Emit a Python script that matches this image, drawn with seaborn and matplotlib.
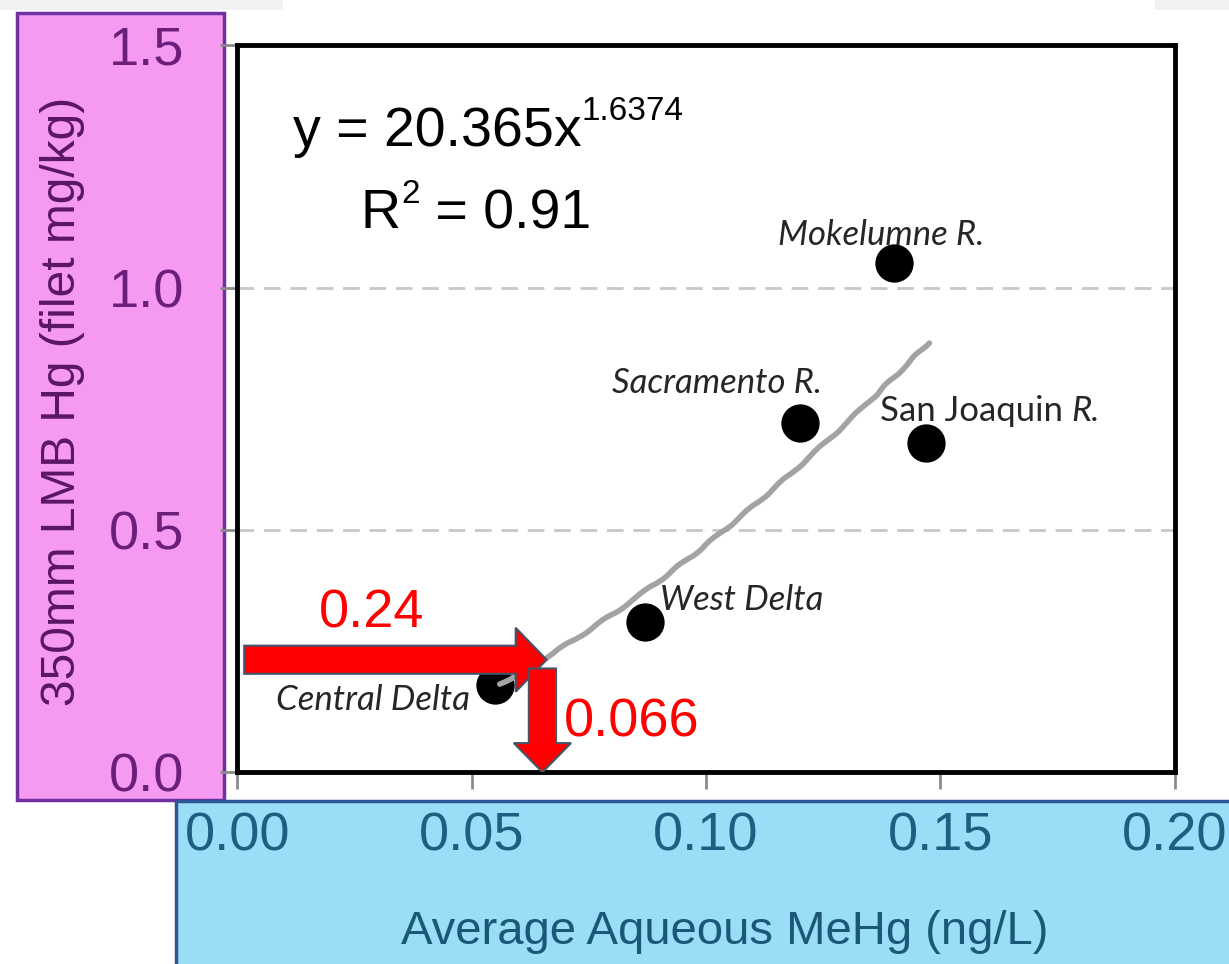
import matplotlib
matplotlib.use('Agg')
import matplotlib.pyplot as plt
from matplotlib.patches import Rectangle, Polygon
import seaborn as sns
import numpy as np
import pandas as pd

# sites and their values
sites = ['Central Delta', 'West Delta', 'Sacramento R.', 'Mokelumne R.', 'San Joaquin R.']
mehg = [0.055, 0.087, 0.120, 0.140, 0.147]
lmb_hg = [0.18, 0.31, 0.72, 1.05, 0.68]

# power fit shown on the chart
fit_coef = 20.365
fit_exp = 1.6374
fit_r2 = 0.91

# target read-off
target_hg = 0.24
target_mehg = 0.066

x_ticks = [0.00, 0.05, 0.10, 0.15, 0.20]
y_ticks = [0.0, 0.5, 1.0, 1.5]

sns.set_theme(style='white')
plt.rcParams['font.family'] = ['Liberation Sans', 'DejaVu Sans']

fig = plt.figure(figsize=(12.29, 9.64), dpi=100)
ax = fig.add_axes([0.193, 0.199, 0.763, 0.754])

# coloured label boxes behind the axes
fig.patches.append(Polygon([[0, 1], [0.23, 1], [0.23, 0.99], [0, 0.99]], closed=True,
                           transform=fig.transFigure, facecolor='#f2f2f4', edgecolor='none', zorder=-3))
fig.patches.append(Polygon([[0.94, 1], [1, 1], [1, 0.99], [0.94, 0.99]], closed=True,
                           transform=fig.transFigure, facecolor='#f2f2f4', edgecolor='none', zorder=-3))
fig.patches.append(Rectangle((0.0135, 0.170), 0.169, 0.817, transform=fig.transFigure,
                             facecolor='#f599f1', edgecolor='#7030a0', lw=2.5, zorder=-2))
fig.patches.append(Rectangle((0.1435, -0.01), 0.87, 0.179, transform=fig.transFigure,
                             facecolor='#99ddf7', edgecolor='#2f5597', lw=2.5, zorder=-2))

df = pd.DataFrame({'site': sites, 'mehg': mehg, 'hg': lmb_hg})

sns.scatterplot(data=df, x='mehg', y='hg', s=760, color='black', edgecolor='black',
                linewidth=0, ax=ax, zorder=3, legend=False)

fit_x = np.linspace(0.056, 0.1475, 120)
fit_df = pd.DataFrame({'x': fit_x, 'y': fit_coef * fit_x ** fit_exp})
sns.lineplot(data=fit_df, x='x', y='y', color='#a3a3a3', lw=4, ax=ax, zorder=4,
             solid_capstyle='round')
ax.lines[-1].set_sketch_params(0.9, 45, 2)

# red read-off arrows
arrow_y = target_hg - 0.008
ax.arrow(0.0015, arrow_y, target_mehg - 0.0015 - 0.0066, 0, width=0.058, head_width=0.132,
         head_length=0.0066, length_includes_head=False, facecolor='#ff0000',
         edgecolor='#44546a', lw=1.5, zorder=5)
ax.arrow(target_mehg - 0.0009, arrow_y - 0.018, 0, -(arrow_y - 0.018) + 0.06, width=0.0058,
         head_width=0.0122, head_length=0.06, length_includes_head=False, facecolor='#ff0000',
         edgecolor='#44546a', lw=1.5, zorder=5)

ax.text(0.0286, 0.328, f'{target_hg:.2f}', color='#ff0000', fontsize=39,
        ha='center', va='center', zorder=6)
ax.text(0.0842, 0.103, f'{target_mehg:.3f}', color='#ff0000', fontsize=39,
        ha='center', va='center', zorder=6)

# equation and R squared
eq = ax.text(0.0119, 1.293, f'y = {fit_coef:.3f}x', fontsize=40, color='black',
             ha='left', va='baseline', zorder=6)
ax.annotate(f'{fit_exp:.4f}', xy=(1, 1), xycoords=eq, xytext=(0, 7), textcoords='offset points',
            fontsize=24, color='black', ha='left', va='top', zorder=6)
r2_y = 1.122
r2 = ax.text(0.0264, r2_y, 'R', fontsize=40, color='black', ha='left', va='baseline', zorder=6)
sq = ax.annotate('2', xy=(1, 1), xycoords=r2, xytext=(0, 7), textcoords='offset points',
                 fontsize=24, color='black', ha='left', va='top', zorder=6)
ax.annotate(f' = {fit_r2:.2f}', xy=(1, r2_y), xycoords=(sq, 'data'), xytext=(0, 0),
            textcoords='offset points', fontsize=40, color='black',
            ha='left', va='baseline', zorder=6)

# site labels
label_pos = {
    'Central Delta': (0.029, 0.148),
    'West Delta': (0.1077, 0.355),
    'Sacramento R.': (0.1023, 0.804),
    'Mokelumne R.': (0.1373, 1.109),
}
lab_font = ['Lato', 'DejaVu Sans']
for name, (lx, ly) in label_pos.items():
    ax.text(lx, ly, name, family=lab_font, style='italic', fontsize=25, color='#262626',
            ha='center', va='center', zorder=6)
sj = ax.text(0.1567, 0.746, 'San Joaquin', family=lab_font, fontsize=25, color='#262626',
             ha='center', va='center', zorder=6)
ax.annotate('R.', xy=(1, 0.5), xycoords=sj, xytext=(6, 0), textcoords='offset points',
            family=lab_font, style='italic', fontsize=25, color='#262626',
            ha='left', va='center', zorder=6)

ax.set_xlim(x_ticks[0], x_ticks[-1])
ax.set_ylim(y_ticks[0], y_ticks[-1])
ax.set_xticks(x_ticks)
ax.set_yticks(y_ticks)
ax.set_xticklabels([f'{v:.2f}' for v in x_ticks])
ax.set_yticklabels([f'{v:.1f}' for v in y_ticks])

ax.yaxis.grid(True, color='#c8c8c8', lw=2, linestyle=(0, (6, 3.5)))
ax.xaxis.grid(False)
ax.set_axisbelow(True)
for sp in ax.spines.values():
    sp.set_visible(True)
    sp.set_color('black')
    sp.set_linewidth(3.5)

ax.tick_params(axis='both', which='major', direction='out', length=12, width=2,
               color='#8c8c8c', labelsize=39)
ax.tick_params(axis='y', pad=26, labelcolor='#6b1f7b', left=True)
ax.tick_params(axis='x', pad=16, labelcolor='#1c5f80', bottom=True)

ax.set_xlabel('Average Aqueous MeHg (ng/L)', fontsize=34, color='#1b5876')
ax.set_ylabel('350mm LMB Hg (filet mg/kg)', fontsize=34.5, color='#5b1565')
ax.xaxis.set_label_coords(0.52, -0.19)
ax.yaxis.set_label_coords(-0.162, 0.51)

fig.savefig('out.png', dpi=100)
